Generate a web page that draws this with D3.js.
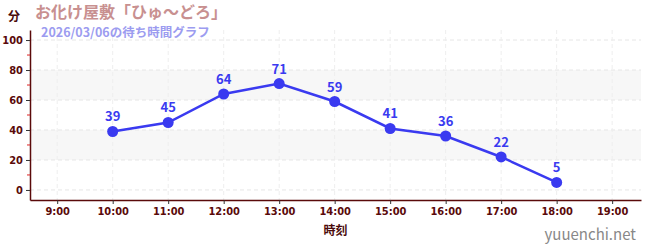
<!DOCTYPE html>
<html>
<head>
<meta charset="utf-8">
<script src="https://cdn.jsdelivr.net/npm/d3@7"></script>
<style>
body { margin: 0; background: #fff; }
text { font-family: "Noto Sans CJK JP", "Noto Sans", sans-serif; }
.tick text { font-family: "DejaVu Sans", sans-serif; font-stretch: condensed; }
</style>
</head>
<body>
<div id="chart"></div>
<script>
// data
const hours = [10, 11, 12, 13, 14, 15, 16, 17, 18];
const waits = [39, 45, 64, 71, 59, 41, 36, 22, 5];
const xTicks = [9, 10, 11, 12, 13, 14, 15, 16, 17, 18, 19];
const yTicks = [0, 20, 40, 60, 80, 100];
const bands = [[20, 40], [60, 80]];

const W = 650, H = 250;
const margin = { top: 30, right: 9, bottom: 50, left: 30 };
const width = W - margin.left - margin.right;
const height = H - margin.top - margin.bottom;

const svg = d3.select('#chart').append('svg')
    .attr('width', W)
    .attr('height', H);

const g = svg.append('g')
    .attr('transform', 'translate(' + margin.left + ',' + margin.top + ')');

const x = d3.scaleLinear().domain([8.51, 19.52]).range([0, width]);
const y = d3.scaleLinear().domain([-6.7, 106.7]).range([height, 0]);

// bands
g.selectAll('.band').data(bands).enter().append('rect')
    .attr('x', 0)
    .attr('width', width)
    .attr('y', d => y(d[1]))
    .attr('height', d => y(d[0]) - y(d[1]))
    .style('fill', '#f7f7f7');

// grid
g.selectAll('.hgrid').data(yTicks).enter().append('line')
    .attr('x1', 0).attr('x2', width)
    .attr('y1', d => y(d)).attr('y2', d => y(d))
    .style('stroke', '#e6e6e6')
    .style('stroke-dasharray', '4,3');
g.selectAll('.vgrid').data(xTicks).enter().append('line')
    .attr('x1', d => x(d)).attr('x2', d => x(d))
    .attr('y1', 0).attr('y2', height)
    .style('stroke', '#eeeeee')
    .style('stroke-dasharray', '4,3');

// axes
const axisColor = '#5a0a0a';
const xAxis = g.append('g')
    .attr('transform', 'translate(0,' + height + ')')
    .call(d3.axisBottom(x).tickValues(xTicks).tickSize(4).tickSizeOuter(0)
        .tickFormat(d => d + ':00'));
const yAxis = g.append('g')
    .call(d3.axisLeft(y).tickValues(yTicks).tickSize(4).tickSizeOuter(0));

// minor y ticks
g.selectAll('.minor').data([10, 30, 50, 70, 90]).enter().append('line')
    .attr('x1', -3).attr('x2', 0)
    .attr('y1', d => y(d)).attr('y2', d => y(d))
    .style('stroke', '#dd2222');

[xAxis, yAxis].forEach(a => {
    a.select('.domain').style('stroke', axisColor).style('stroke-width', 1.5);
    a.selectAll('.tick line').style('stroke', '#333');
    a.selectAll('.tick text')
        .style('fill', axisColor)
        .style('font-size', '11px')
        .style('font-weight', 'bold');
});

// line
const lineColor = '#3a3af0';
const pts = hours.map((h, i) => ({ h: h, v: waits[i] }));
g.append('path')
    .datum(pts)
    .attr('d', d3.line().x(d => x(d.h)).y(d => y(d.v)))
    .style('fill', 'none')
    .style('stroke', lineColor)
    .style('stroke-width', 2.5);

g.selectAll('.dot').data(pts).enter().append('circle')
    .attr('cx', d => x(d.h))
    .attr('cy', d => y(d.v))
    .attr('r', 5.5)
    .style('fill', lineColor);

g.selectAll('.lbl').data(pts).enter().append('text')
    .attr('x', d => x(d.h))
    .attr('y', d => y(d.v) - 10)
    .attr('text-anchor', 'middle')
    .style('font-size', '13px')
    .style('font-weight', 'bold')
    .style('fill', lineColor)
    .text(d => d.v);

// titles
svg.append('text')
    .attr('x', 8).attr('y', 21)
    .style('font-size', '12px').style('font-weight', 'bold')
    .style('fill', '#4a0a0a')
    .text('分');
svg.append('text')
    .attr('x', 35).attr('y', 18)
    .style('font-size', '16px').style('font-weight', 'bold')
    .style('fill', '#c89090')
    .text('お化け屋敷「ひゅ〜どろ」');
svg.append('text')
    .attr('x', 41).attr('y', 37)
    .style('font-size', '12.5px').style('font-weight', 'bold')
    .style('fill', '#9c9cf0')
    .text('2026/03/06の待ち時間グラフ');
svg.append('text')
    .attr('x', margin.left + width / 2).attr('y', 235)
    .attr('text-anchor', 'middle')
    .style('font-size', '12px').style('font-weight', 'bold')
    .style('fill', '#4a0a0a')
    .text('時刻');
svg.append('text')
    .attr('x', 636).attr('y', 240)
    .attr('text-anchor', 'end')
    .style('font-size', '15px')
    .style('fill', '#888')
    .text('yuuenchi.net');
</script>
</body>
</html>
